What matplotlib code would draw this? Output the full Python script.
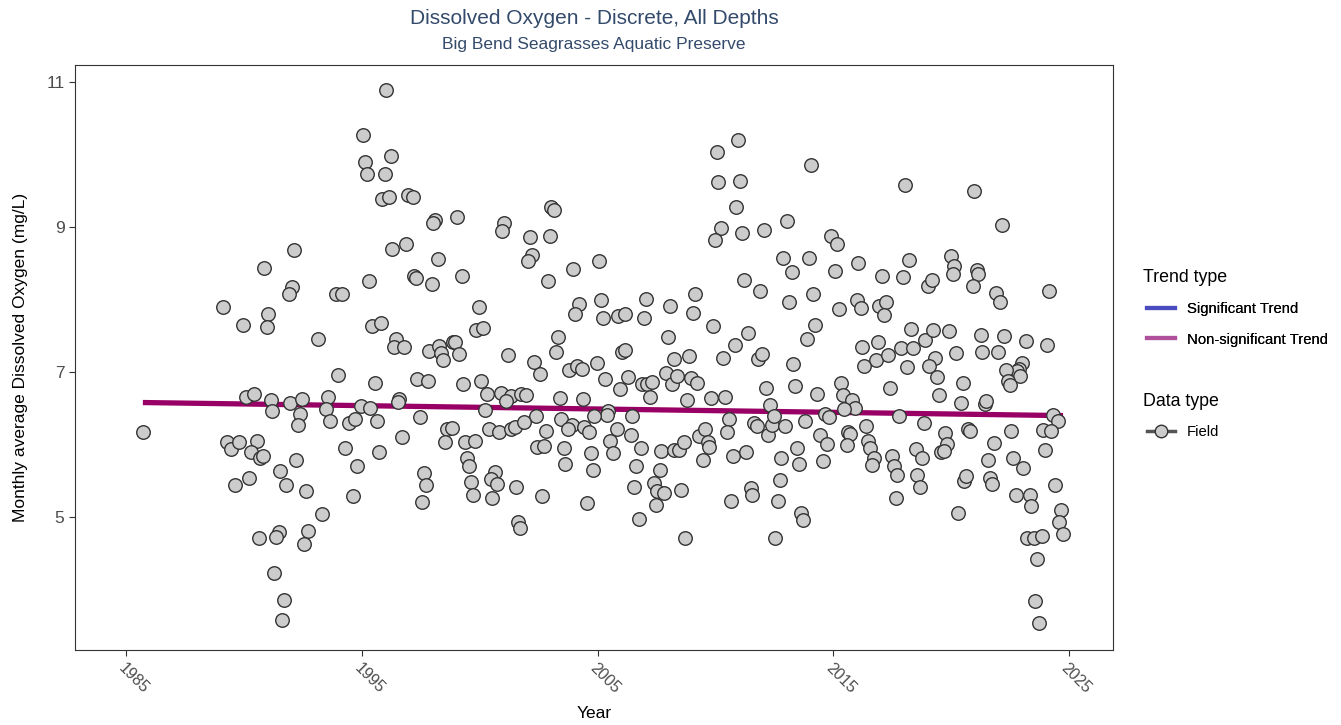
import matplotlib
matplotlib.use("Agg")
import matplotlib.pyplot as plt
from matplotlib.lines import Line2D

plt.rcParams['font.family'] = ['Liberation Sans', 'DejaVu Sans']

# monthly average dissolved oxygen, decimal year vs mg/L
years = [
    1985.71, 1989.12, 1990.87, 1991.04, 1989.97, 1990.96, 1990.08, 1990.44, 1991.13, 1991.20,
    1989.28, 1989.46, 1989.79, 1990.55, 1990.29, 1990.70, 1990.79, 1990.21, 1989.63, 1990.63,
    1991.26,
    1996.04, 1995.05, 1996.22, 1995.15, 1995.23, 1995.97, 1995.87, 1996.14, 1996.95, 1997.16,
    1998.11, 1998.04, 1992.12, 1996.30, 1996.89, 1998.22, 1992.02, 1991.89, 1995.30, 1997.23,
    1997.29, 1997.98, 1993.89, 1994.14, 1993.12, 1995.45, 1995.80, 1996.47, 1996.35, 1996.80,
    1997.85, 1998.29, 1998.35, 1998.45, 1993.97, 1995.56, 1997.36, 1997.81, 1991.96, 1992.47,
    1992.39, 1992.29, 1993.55, 1993.46, 1993.63, 1994.47, 1994.71, 1994.96, 1995.36, 1995.63,
    1996.59, 1996.54, 1997.47, 1996.72, 1994.30, 1995.71, 1991.54, 1991.79, 1992.22, 1992.63,
    1994.81, 1994.63, 1997.63, 1997.71, 1997.56, 1993.29, 1991.47, 1991.36, 1992.71, 1992.53,
    1991.71, 1991.62,
    2003.03, 2003.15, 1999.05, 2001.05, 2000.95, 2002.14, 2002.98, 2002.24, 2002.04, 2005.06,
    2003.98, 1999.23, 2002.89, 2004.22, 2004.05, 2005.14, 2005.23, 1999.98, 1999.86, 2000.13,
    2003.31, 2003.22, 1998.87, 1998.96, 1999.14, 2001.22, 2002.31, 2002.55, 2003.80, 2004.14,
    2004.33, 2004.97, 2005.30, 1999.30, 2000.06, 2000.31, 2000.89, 2001.31, 2001.11, 2001.76,
    2001.97, 2003.40, 2004.39, 2005.45, 2005.40, 2004.87, 2000.22, 2002.40, 2003.47, 2003.92,
    2003.73, 2004.43, 2004.63, 1998.63, 1998.81, 1998.55, 2000.39, 2000.81, 2001.33, 2001.48,
    2001.90, 2002.81, 1999.38, 1999.82, 2002.42, 2002.73, 2003.57, 2005.55, 2005.65, 2004.73,
    1999.47, 1999.56, 2003.63, 2004.80, 1999.64, 2000.64, 2000.46, 2000.73, 1999.72, 2000.54,
    2001.56, 2002.64, 2004.55, 2001.63, 2001.72,
    2010.97, 2010.07, 2010.12, 2011.06, 2010.89, 2010.22, 2009.98, 2011.14, 2012.06, 2012.88,
    2011.23, 2011.89, 2007.05, 2005.86, 2006.15, 2006.97, 2008.06, 2009.13, 2009.06, 2009.90,
    2007.99, 2006.05, 2006.16, 2008.23, 2008.89, 2010.31, 2010.82, 2011.40, 2011.81, 2011.98,
    2005.95, 2006.30, 2006.87, 2007.08, 2007.32, 2007.22, 2007.89, 2008.14, 2008.38, 2008.98,
    2009.23, 2008.81, 2009.80, 2010.39, 2012.13, 2012.30, 2006.47, 2005.81, 2006.40, 2006.83,
    2006.64, 2007.70, 2008.24, 2008.47, 2008.65, 2009.30, 2009.57, 2009.69, 2009.74, 2009.49,
    2010.56, 2010.48, 2011.62, 2011.75, 2012.23, 2012.42, 2012.49, 2012.94, 2010.73, 2011.30,
    2012.80, 2007.65, 2007.39, 2007.53, 2007.82, 2006.54, 2007.46, 2008.55, 2006.74, 2008.72,
    2011.50, 2011.57, 2010.65, 2012.73, 2012.64, 2012.54,
    2014.07, 2018.05, 2013.05, 2014.89, 2015.15, 2013.99, 2013.24, 2015.06, 2016.07, 2017.07,
    2017.98, 2018.23, 2019.00, 2019.17, 2019.99, 2020.13, 2020.06, 2013.14, 2014.14, 2015.23,
    2016.00, 2016.17, 2016.95, 2017.24, 2017.16, 2014.23, 2013.90, 2016.24, 2016.89, 2016.83,
    2016.31, 2017.31, 2017.89, 2018.40, 2018.32, 2018.89, 2019.24, 2019.89, 2018.15, 2019.31,
    2019.07, 2019.41, 2013.31, 2013.39, 2014.33, 2015.32, 2015.40, 2015.81, 2015.91, 2015.47,
    2017.39, 2019.48, 2020.20, 2014.65, 2014.82, 2013.80, 2017.81, 2018.83, 2014.44, 2014.75,
    2015.64, 2015.71, 2015.57, 2016.41, 2016.49, 2016.56, 2016.75, 2016.65, 2017.48, 2017.58,
    2017.72, 2018.49, 2018.76, 2018.57, 2018.66, 2017.65, 2019.73, 2019.81, 2019.58, 2019.68,
    2013.48, 2013.56, 2014.57, 2013.65, 2013.73,
    2020.98, 2022.16, 2021.08, 2021.15, 2020.91, 2021.90, 2022.08, 2024.15, 2021.25, 2022.24,
    2023.16, 2024.07, 2021.33, 2021.98, 2022.99, 2022.89, 2022.81, 2022.31, 2022.93, 2022.42,
    2022.51, 2020.50, 2020.41, 2021.42, 2021.49, 2024.33, 2024.52, 2020.70, 2020.81, 2022.56,
    2023.90, 2024.24, 2021.83, 2021.57, 2022.64, 2023.07, 2023.99, 2020.56, 2020.63, 2021.66,
    2021.73, 2022.75, 2023.33, 2023.39, 2024.41, 2024.66, 2024.56, 2024.75, 2020.31, 2023.23,
    2023.53, 2023.84, 2023.64, 2023.58, 2023.73,
]
do_mgl = [
    6.17, 7.89, 8.43, 7.80, 7.65, 7.62, 6.66, 6.70, 6.61, 6.47,
    6.04, 5.94, 6.04, 6.05, 5.90, 5.82, 5.85, 5.54, 5.44, 4.71,
    4.23,
    10.88, 10.27, 9.98, 9.90, 9.73, 9.73, 9.39, 9.41, 9.44, 9.41,
    9.10, 9.05, 8.68, 8.70, 8.77, 8.56, 8.17, 8.07, 8.26, 8.33,
    8.30, 8.22, 8.07, 8.07, 7.46, 7.63, 7.68, 7.46, 7.35, 7.34,
    7.29, 7.36, 7.26, 7.16, 6.96, 6.85, 6.90, 6.87, 6.57, 6.63,
    6.42, 6.27, 6.65, 6.49, 6.33, 6.30, 6.35, 6.53, 6.50, 6.32,
    6.63, 6.59, 6.38, 6.10, 5.96, 5.90, 5.64, 5.44, 5.79, 5.36,
    5.71, 5.29, 5.61, 5.44, 5.21, 5.05, 4.79, 4.73, 4.81, 4.63,
    3.86, 3.59,
    9.28, 9.23, 9.14, 9.05, 8.95, 8.86, 8.88, 8.61, 8.53, 8.53,
    8.42, 8.33, 8.25, 7.94, 7.80, 7.99, 7.74, 7.90, 7.58, 7.61,
    7.48, 7.28, 7.42, 7.42, 7.25, 7.24, 7.14, 6.98, 7.03, 7.08,
    7.04, 7.12, 6.91, 6.83, 6.88, 6.70, 6.71, 6.67, 6.60, 6.70,
    6.68, 6.64, 6.63, 6.47, 6.41, 6.39, 6.48, 6.39, 6.35, 6.27,
    6.21, 6.24, 6.17, 6.22, 6.23, 6.04, 6.22, 6.17, 6.21, 6.24,
    6.31, 6.19, 6.04, 6.05, 5.97, 5.98, 5.96, 6.05, 5.88, 5.88,
    5.82, 5.70, 5.74, 5.65, 5.49, 5.62, 5.53, 5.46, 5.30, 5.26,
    5.41, 5.29, 5.20, 4.94, 4.85,
    10.20, 10.03, 9.62, 9.63, 9.28, 8.98, 8.82, 8.92, 8.96, 8.57,
    8.27, 8.12, 8.01, 7.77, 7.80, 7.75, 7.91, 8.08, 7.82, 7.64,
    7.48, 7.27, 7.31, 7.18, 7.22, 7.20, 7.37, 7.54, 7.18, 7.25,
    6.76, 6.93, 6.83, 6.84, 6.86, 6.65, 6.99, 6.84, 6.95, 6.92,
    6.85, 6.61, 6.64, 6.65, 6.78, 6.54, 6.40, 6.22, 6.13, 5.96,
    5.70, 5.91, 5.93, 5.93, 6.03, 6.12, 6.21, 6.04, 5.97, 5.79,
    6.35, 6.18, 6.30, 6.25, 6.13, 6.27, 6.40, 6.26, 5.84, 5.90,
    5.82, 5.65, 5.47, 5.36, 5.34, 5.41, 5.17, 5.38, 4.98, 4.71,
    5.40, 5.30, 5.22, 5.51, 5.23, 4.72,
    9.85, 9.58, 9.08, 8.87, 8.77, 8.57, 8.38, 8.39, 8.50, 8.33,
    8.31, 8.55, 8.18, 8.27, 8.60, 8.46, 8.35, 7.97, 8.08, 7.87,
    7.99, 7.88, 7.91, 7.96, 7.79, 7.65, 7.46, 7.35, 7.42, 7.16,
    7.08, 7.24, 7.33, 7.33, 7.60, 7.44, 7.58, 7.57, 7.07, 7.20,
    7.09, 6.93, 7.11, 6.81, 6.70, 6.85, 6.68, 6.61, 6.50, 6.49,
    6.78, 6.68, 7.26, 6.42, 6.38, 6.33, 6.40, 6.30, 6.13, 6.01,
    6.17, 6.15, 5.99, 6.26, 6.05, 5.95, 5.82, 5.72, 5.85, 5.70,
    5.58, 5.94, 5.82, 5.58, 5.41, 5.26, 6.16, 6.01, 5.90, 5.91,
    5.96, 5.74, 5.77, 5.06, 4.96,
    9.49, 9.02, 8.41, 8.35, 8.19, 8.09, 7.96, 8.12, 7.51, 7.49,
    7.43, 7.37, 7.28, 7.27, 7.12, 7.04, 7.02, 7.03, 6.94, 6.87,
    6.82, 6.85, 6.58, 6.56, 6.60, 6.41, 6.33, 6.22, 6.19, 6.19,
    6.20, 6.19, 6.02, 5.79, 5.81, 5.68, 5.93, 5.50, 5.57, 5.54,
    5.46, 5.30, 5.31, 5.16, 5.44, 5.10, 4.93, 4.77, 5.06, 4.71,
    4.71, 4.74, 4.43, 3.84, 3.54,
]

# fitted (non-significant) trend, start and end
trend_years = [1985.71, 2024.75]
trend_vals = [6.58, 6.40]

title_col = '#334a6b'
txt_col = '#4d4d4d'

fig = plt.figure(figsize=(13.41, 7.25), dpi=100)
ax = fig.add_axes([0.0559, 0.1034, 0.7741, 0.8069])

ax.scatter(years, do_mgl, s=95, facecolor='#cccccc', edgecolor='#333333',
           linewidth=1.0, zorder=3)
ax.plot(trend_years, trend_vals, color='#990066', lw=3.8, zorder=2,
        solid_capstyle='butt')

ax.set_xlim(1982.83, 2026.87)
ax.set_ylim(3.17, 11.23)
ax.set_xticks([1985, 1995, 2005, 2015, 2025])
ax.set_yticks([5, 7, 9, 11])
ax.tick_params(axis='both', direction='out', length=4, width=0.8,
               color='#333333', labelcolor=txt_col)
ax.tick_params(axis='y', labelsize=12.5)
ax.tick_params(axis='x', labelsize=11.5)
for lab in ax.get_xticklabels():
    lab.set_rotation(-45)
    lab.set_ha('left')
    lab.set_va('top')
    lab.set_rotation_mode('anchor')
for sp in ax.spines.values():
    sp.set_color('#333333')
    sp.set_linewidth(0.8)

ax.set_xlabel('Year', fontsize=12.5, color='black', labelpad=7)
ax.set_ylabel('Monthly average Dissolved Oxygen (mg/L)', fontsize=12.5,
              color='black', labelpad=13)

fig.text(0.443, 0.975, 'Dissolved Oxygen - Discrete, All Depths',
         ha='center', va='center', fontsize=15, color=title_col)
fig.text(0.443, 0.938, 'Big Bend Seagrasses Aquatic Preserve',
         ha='center', va='center', fontsize=12.5, color=title_col)

# legend titles as plain text, entries as title-less legends
fig.text(1143 / 1341, 1 - 277 / 725, 'Trend type', ha='left', va='center',
         fontsize=12.8, color='black')
fig.text(1143 / 1341, 1 - 401 / 725, 'Data type', ha='left', va='center',
         fontsize=12.8, color='black')

trend_handles = [Line2D([0], [0], color='#4b4bc0', lw=3),
                 Line2D([0], [0], color='#b0509c', lw=3)]
leg1 = fig.legend(trend_handles, ['Significant Trend', 'Non-significant Trend'],
                  loc='center left', bbox_to_anchor=(0.845, 1 - 324.5 / 725),
                  frameon=False, fontsize=10.7, handlelength=1.9,
                  labelspacing=1.1)
fig.add_artist(leg1)
field_handle = [Line2D([0], [0], color='#555555', lw=2.5, marker='o',
                       markersize=9, markerfacecolor='#cccccc',
                       markeredgecolor='#333333')]
fig.legend(field_handle, ['Field'], loc='center left',
           bbox_to_anchor=(0.845, 1 - 432 / 725), frameon=False,
           fontsize=10.7, handlelength=1.9)

fig.savefig('out.png', dpi=100)
